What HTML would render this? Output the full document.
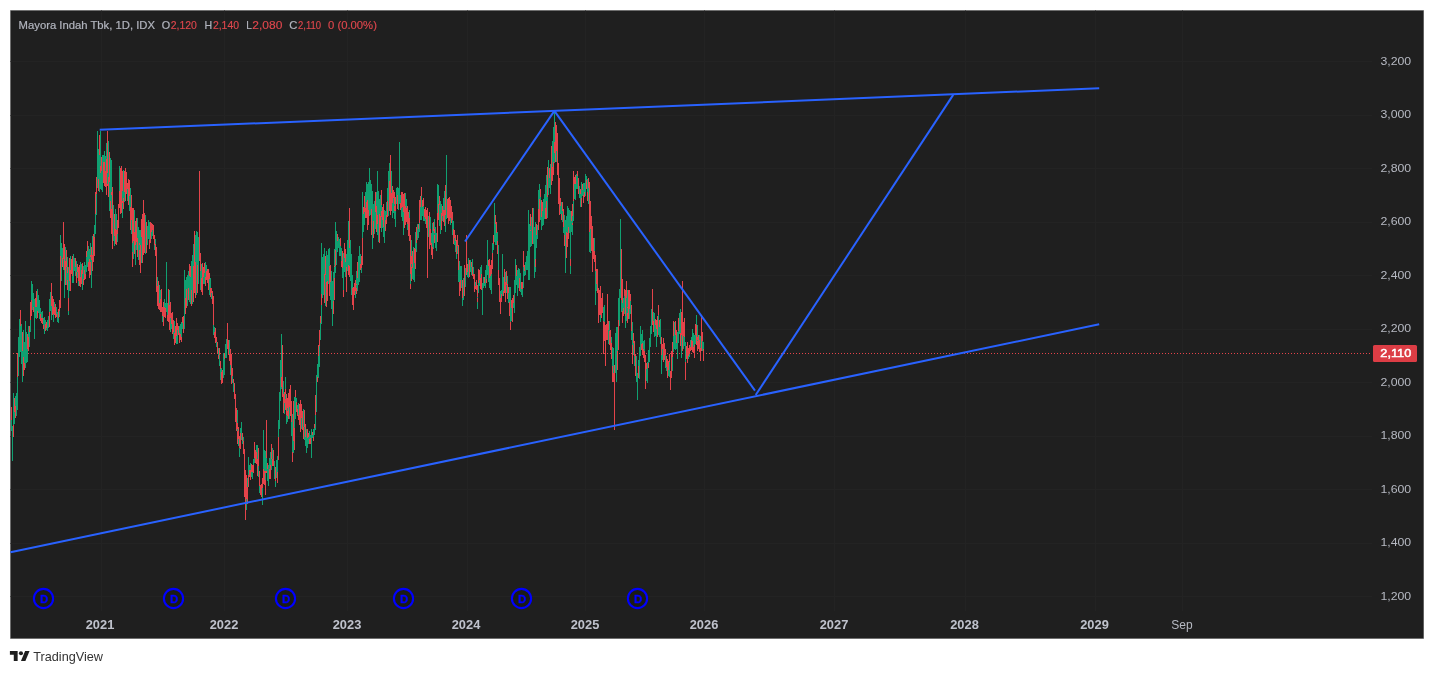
<!DOCTYPE html>
<html><head><meta charset="utf-8"><title>Mayora Indah Tbk</title>
<style>
html,body{margin:0;padding:0;background:#fff;}
body{width:1434px;height:674px;overflow:hidden;position:relative;font-family:"Liberation Sans",sans-serif;}
svg{position:absolute;left:0;top:0;display:block;will-change:transform}
svg text{font-family:"Liberation Sans",sans-serif}
.pl{font-size:11px;fill:#b6b9c2}
.tl{font-size:12px;fill:#b6b9c2}
.tlb{font-size:12px;font-weight:700;fill:#bfc2cc}
.hd{font-size:11px;fill:#b2b5be;stroke:#b2b5be;stroke-width:0.2px}
.hr{font-size:11px;fill:#df474d;stroke:#df474d;stroke-width:0.15px}
</style></head><body>
<svg width="1434" height="674" viewBox="0 0 1434 674">
<rect x="0" y="0" width="1434" height="674" fill="#ffffff"/>
<rect x="10" y="10" width="1414" height="629" fill="#a5a5a5"/>
<rect x="10.6" y="10.6" width="1412.9" height="627.8" fill="#1f1f1f"/>
<g id="grid">
<rect x="10.5" y="61" width="1361.5" height="1" fill="#232323"/>
<rect x="10.5" y="115" width="1361.5" height="1" fill="#232323"/>
<rect x="10.5" y="168" width="1361.5" height="1" fill="#232323"/>
<rect x="10.5" y="222" width="1361.5" height="1" fill="#232323"/>
<rect x="10.5" y="275" width="1361.5" height="1" fill="#232323"/>
<rect x="10.5" y="329" width="1361.5" height="1" fill="#232323"/>
<rect x="10.5" y="382" width="1361.5" height="1" fill="#232323"/>
<rect x="10.5" y="436" width="1361.5" height="1" fill="#232323"/>
<rect x="10.5" y="489" width="1361.5" height="1" fill="#232323"/>
<rect x="10.5" y="543" width="1361.5" height="1" fill="#232323"/>
<rect x="10.5" y="596" width="1361.5" height="1" fill="#232323"/>
<rect x="101" y="10.5" width="1" height="600.5" fill="#232323"/>
<rect x="224" y="10.5" width="1" height="600.5" fill="#232323"/>
<rect x="347" y="10.5" width="1" height="600.5" fill="#232323"/>
<rect x="467" y="10.5" width="1" height="600.5" fill="#232323"/>
<rect x="585" y="10.5" width="1" height="600.5" fill="#232323"/>
<rect x="704" y="10.5" width="1" height="600.5" fill="#232323"/>
<rect x="834" y="10.5" width="1" height="600.5" fill="#232323"/>
<rect x="965" y="10.5" width="1" height="600.5" fill="#232323"/>
<rect x="1095" y="10.5" width="1" height="600.5" fill="#232323"/>
<rect x="1182" y="10.5" width="1" height="600.5" fill="#232323"/>
</g>
<line x1="13" y1="353.5" x2="1370" y2="353.5" stroke="#e4434a" stroke-width="1" stroke-dasharray="1 2" shape-rendering="crispEdges"/>
<g id="candles">
<path d="M11.5 420V431M12.5 426V461M13.5 393V425M14.5 412V424M15.5 396V406M16.5 393V416M17.5 377V410M18.5 337V376M19.5 319V357M20.5 326V352M21.5 324V364M22.5 351V382M23.5 330V357M24.5 342V363M25.5 321V368M26.5 332V363M27.5 349V362M28.5 326V337M29.5 332V347M30.5 320V332M31.5 281V300M32.5 284V310M33.5 293V307M34.5 299V339M35.5 307V318M36.5 307V319M37.5 289V311M38.5 295V313M39.5 300V319M40.5 308V314M41.5 312V318M42.5 311V318M43.5 318V325M44.5 317V334M45.5 320V324M46.5 328V330M47.5 320V331M48.5 316V328M49.5 299V312M50.5 292V311M51.5 306V320M53.5 314V322M54.5 302V307M56.5 307V314M57.5 312V322M58.5 318V323M59.5 311V317M60.5 235V256M61.5 243V281M62.5 248V258M63.5 259V270M64.5 270V298M65.5 247V261M66.5 267V285M67.5 257V267M67.5 273V280M68.5 267V298M68.5 311V315M69.5 281V291M70.5 256V270M72.5 276V283M73.5 254V283M74.5 258V271M75.5 267V276M76.5 261V272M77.5 272V278M78.5 281V286M80.5 262V277M81.5 264V270M82.5 274V290M83.5 266V279M84.5 262V270M85.5 265V274M86.5 257V272M87.5 251V267M88.5 246V262M89.5 249V259M90.5 243V255M90.5 257V262M91.5 260V288M92.5 236V255M94.5 225V237M95.5 214V234M96.5 194V215M97.5 131V188M98.5 149V179M99.5 155V192M100.5 131V166M100.5 173V189M101.5 171V190M102.5 155V192M103.5 155V162M104.5 151V162M105.5 156V171M106.5 143V159M107.5 173V184M108.5 141V177M109.5 182V211M110.5 158V201M111.5 160V192M111.5 195V209M113.5 205V241M114.5 236V246M115.5 209V229M116.5 214V230M117.5 234V242M119.5 166V191M122.5 191V201M122.5 203V218M123.5 170V198M124.5 192V202M127.5 189V201M129.5 196V211M130.5 188V207M131.5 220V234M132.5 243V252M133.5 241V259M134.5 210V232M135.5 245V265M136.5 242V250M137.5 218V238M138.5 227V260M139.5 230V243M139.5 245V250M140.5 230V245M141.5 237V263M145.5 215V254M147.5 226V245M148.5 220V239M149.5 222V240M151.5 232V239M152.5 230V236M154.5 245V250M155.5 239V244M157.5 277V286M159.5 285V303M160.5 290V299M162.5 316V322M164.5 299V307M165.5 303V308M166.5 262V312M167.5 303V315M169.5 290V305M170.5 318V332M171.5 324V329M173.5 332V339M174.5 321V333M176.5 336V344M177.5 330V344M179.5 326V333M180.5 324V334M181.5 322V337M182.5 323V329M184.5 270V329M185.5 280V298M186.5 277V289M187.5 275V306M188.5 271V288M189.5 276V302M190.5 277V304M191.5 261V290M192.5 255V304M193.5 244V266M195.5 235V262M196.5 231V295M197.5 232V265M198.5 237V284M200.5 271V290M201.5 264V278M203.5 277V284M204.5 273V284M205.5 262V277M206.5 265V271M209.5 279V295M210.5 278V288M211.5 293V299M213.5 325V335M214.5 327V332M216.5 342V347M218.5 348V355M219.5 355V366M220.5 369V380M221.5 368V372M223.5 353V378M224.5 359V375M225.5 344V358M226.5 339V358M229.5 340V354M230.5 365V375M232.5 376V383M233.5 383V392M237.5 410V423M237.5 429V431M238.5 439V446M239.5 448V457M240.5 428V433M241.5 422V440M242.5 441V444M243.5 437V441M246.5 499V510M247.5 478V487M248.5 457V475M249.5 465V470M250.5 463V470M251.5 472V477M252.5 472V479M253.5 459V465M254.5 458V463M256.5 445V452M257.5 445V459M258.5 466V477M259.5 486V493M262.5 488V505M263.5 430V469M264.5 450V471M265.5 451V471M265.5 473V480M266.5 458V471M267.5 469V481M268.5 465V486M269.5 458V469M270.5 452V465M271.5 459V470M272.5 448V459M274.5 461V479M275.5 481V487M276.5 460V478M277.5 456V472M278.5 420V437M279.5 392V429M280.5 360V401M281.5 334V377M281.5 387V389M283.5 381V394M284.5 403V414M285.5 377V389M285.5 394V399M286.5 415V424M287.5 408V411M287.5 416V422M289.5 407V419M291.5 422V436M292.5 414V452M293.5 441V453M294.5 397V428M295.5 397V419M296.5 398V402M297.5 405V409M298.5 403V415M301.5 418V429M303.5 409V427M304.5 427V440M305.5 437V446M306.5 429V453M307.5 438V448M308.5 437V444M309.5 431V439M310.5 435V438M311.5 429V458M312.5 435V438M313.5 429V437M314.5 428V435M315.5 415V430M316.5 375V412M317.5 364V377M318.5 356V378M319.5 346V367M320.5 323V340M321.5 243V294M321.5 305V324M322.5 257V298M323.5 254V295M324.5 248V274M325.5 275V306M326.5 251V282M327.5 255V281M328.5 249V284M329.5 248V266M330.5 282V300M331.5 271V309M332.5 281V326M333.5 272V301M334.5 249V266M334.5 267V278M335.5 222V250M335.5 266V273M336.5 231V265M337.5 241V252M338.5 237V248M339.5 239V256M340.5 246V256M341.5 248V261M342.5 268V278M343.5 253V290M344.5 258V272M345.5 262V277M346.5 254V267M347.5 240V271M348.5 221V265M349.5 248V266M350.5 240V281M351.5 254V295M352.5 275V288M355.5 291V298M356.5 271V284M356.5 285V288M357.5 278V291M358.5 256V285M359.5 246V282M360.5 254V264M361.5 268V273M362.5 192V238M363.5 214V232M364.5 212V225M365.5 192V208M366.5 182V202M367.5 184V200M368.5 182V210M369.5 168V216M370.5 180V215M371.5 184V209M372.5 191V249M373.5 204V221M374.5 201V234M375.5 212V229M376.5 192V206M377.5 171V215M377.5 224V235M378.5 191V242M379.5 199V214M380.5 195V216M381.5 205V211M381.5 217V232M382.5 220V228M383.5 227V237M384.5 210V243M385.5 211V220M386.5 202V215M387.5 188V201M388.5 171V216M389.5 163V181M391.5 171V193M392.5 203V218M393.5 198V213M394.5 204V206M394.5 211V219M395.5 211V227M396.5 188V204M397.5 187V195M398.5 188V210M399.5 142V204M400.5 195V203M401.5 208V217M402.5 207V221M403.5 212V235M405.5 193V206M406.5 199V208M407.5 224V230M409.5 210V218M410.5 274V284M411.5 240V256M411.5 264V267M412.5 268V279M413.5 247V280M414.5 263V282M415.5 232V249M416.5 243V252M417.5 224V240M418.5 229V238M419.5 223V232M420.5 207V220M421.5 196V220M422.5 207V216M423.5 206V221M424.5 217V221M425.5 219V224M428.5 216V237M430.5 217V229M431.5 233V243M432.5 223V247M433.5 231V249M434.5 219V229M434.5 233V235M435.5 227V248M436.5 233V251M437.5 184V213M438.5 185V204M439.5 205V226M440.5 201V234M441.5 204V213M442.5 216V221M443.5 198V210M444.5 191V210M445.5 215V232M446.5 155V219M450.5 218V225M452.5 220V235M453.5 221V229M454.5 238V245M455.5 241V252M456.5 254V259M457.5 246V254M458.5 270V282M459.5 261V282M460.5 266V280M461.5 266V288M462.5 298V306M463.5 278V300M465.5 268V287M467.5 272V277M468.5 258V278M470.5 260V272M471.5 267V275M472.5 259V267M473.5 267V274M475.5 282V286M477.5 297V298M477.5 302V309M478.5 283V293M479.5 280V286M480.5 267V278M481.5 265V274M482.5 283V315M483.5 277V288M484.5 283V286M485.5 270V288M486.5 265V279M487.5 240V275M488.5 266V282M489.5 278V288M490.5 276V290M491.5 274V294M492.5 243V253M493.5 244V250M494.5 203V242M495.5 224V245M496.5 233V245M497.5 232V241M498.5 245V270M500.5 291V298M501.5 290V294M502.5 254V296M503.5 277V291M505.5 272V282M506.5 285V293M507.5 276V284M508.5 293V303M509.5 287V302M510.5 287V322M511.5 308V321M513.5 303V308M514.5 280V313M515.5 259V293M516.5 276V285M517.5 270V296M518.5 268V288M519.5 269V278M520.5 273V292M521.5 289V295M522.5 289V297M523.5 267V288M524.5 271V276M525.5 262V275M526.5 256V270M527.5 251V270M528.5 210V280M529.5 224V280M530.5 226V230M530.5 231V247M531.5 217V246M533.5 208V244M534.5 227V278M535.5 222V259M535.5 267V272M536.5 235V248M537.5 225V239M538.5 190V209M539.5 184V199M540.5 197V220M541.5 217V230M542.5 211V226M543.5 199V225M544.5 194V219M545.5 185V208M546.5 175V201M547.5 197V218M548.5 160V195M549.5 178V188M550.5 164V194M552.5 141V167M553.5 127V162M554.5 112V142M554.5 153V163M556.5 151V162M560.5 206V214M561.5 202V214M562.5 211V222M563.5 227V233M564.5 215V235M565.5 220V273M566.5 216V232M567.5 206V233M568.5 208V227M569.5 210V233M570.5 211V259M570.5 266V274M571.5 221V232M572.5 216V223M572.5 225V235M573.5 201V221M574.5 184V199M575.5 184V200M576.5 174V189M577.5 176V189M579.5 186V198M580.5 194V207M581.5 182V198M582.5 190V196M583.5 183V195M584.5 183V192M585.5 174V196M586.5 176V180M587.5 179V192M588.5 188V204M589.5 232V252M590.5 229V253M594.5 238V251M595.5 271V305M596.5 284V291M600.5 315V322M603.5 307V321M604.5 305V322M608.5 330V344M609.5 321V331M611.5 337V343M612.5 347V366M613.5 348V373M615.5 333V373M616.5 327V382M617.5 327V351M618.5 298V320M619.5 289V326M620.5 219V298M621.5 300V312M622.5 303V311M623.5 298V308M624.5 296V314M625.5 316V328M626.5 298V321M627.5 290V307M627.5 308V313M629.5 309V319M630.5 301V314M631.5 331V340M632.5 322V345M633.5 343V355M634.5 356V366M636.5 356V382M637.5 373V400M638.5 360V366M639.5 347V379M640.5 326V356M641.5 334V344M642.5 330V343M643.5 341V349M644.5 340V351M646.5 369V381M647.5 362V383M648.5 350V363M649.5 338V362M650.5 326V347M651.5 309V334M653.5 312V321M654.5 313V337M655.5 325V336M656.5 329V347M658.5 315V335M659.5 327V337M660.5 319V344M661.5 355V374M662.5 349V360M665.5 355V368M666.5 367V371M668.5 370V376M669.5 362V377M672.5 357V371M673.5 336V352M674.5 322V349M675.5 335V350M676.5 343V349M677.5 332V359M678.5 331V343M679.5 313V334M680.5 309V333M681.5 335V358M683.5 336V349M684.5 337V346M685.5 342V362M688.5 356V359M689.5 354V357M690.5 340V347M691.5 337V340M692.5 329V341M693.5 333V347M694.5 335V345M695.5 335V344M696.5 315V325M697.5 325V337M697.5 340V341M699.5 335V340M700.5 336V348M702.5 341V351M703.5 342V349" stroke="#10a071" stroke-width="1" fill="none" shape-rendering="crispEdges"/>
<path d="M11.5 407V420M13.5 425V437M14.5 398V412M15.5 406V418M17.5 353V377M20.5 310V326M22.5 332V351M23.5 357V376M24.5 363V370M27.5 334V349M28.5 337V351M29.5 326V332M30.5 302V320M31.5 300V316M33.5 307V312M35.5 298V307M36.5 291V307M37.5 311V318M40.5 314V321M41.5 318V323M42.5 318V324M43.5 325V329M45.5 324V331M46.5 322V328M49.5 312V327M51.5 283V306M52.5 296V315M53.5 299V314M54.5 307V315M55.5 304V318M56.5 314V317M58.5 309V318M59.5 300V311M60.5 256V308M62.5 258V267M63.5 222V259M64.5 244V270M65.5 261V285M66.5 250V267M67.5 267V273M67.5 280V290M68.5 298V311M69.5 258V281M70.5 270V291M71.5 259V274M72.5 256V276M75.5 258V267M76.5 272V283M77.5 264V272M78.5 267V281M79.5 265V286M80.5 277V287M81.5 270V284M82.5 263V274M83.5 279V285M84.5 270V280M85.5 274V279M86.5 251V257M87.5 241V251M88.5 262V271M89.5 259V278M90.5 255V257M90.5 262V275M91.5 247V260M92.5 255V271M93.5 234V262M94.5 237V256M95.5 192V214M96.5 177V194M98.5 179V191M99.5 135V155M100.5 166V173M101.5 157V171M103.5 162V183M104.5 162V186M105.5 171V187M106.5 159V195M107.5 131V173M107.5 184V186M108.5 177V197M109.5 152V182M110.5 201V218M111.5 192V195M111.5 209V234M112.5 187V249M114.5 214V236M115.5 229V244M116.5 230V245M117.5 220V234M118.5 204V228M119.5 191V208M120.5 168V214M121.5 166V213M122.5 171V191M122.5 201V203M123.5 198V209M124.5 171V192M125.5 168V201M126.5 172V194M127.5 183V189M128.5 179V205M129.5 180V196M130.5 207V230M131.5 195V220M132.5 208V243M132.5 252V267M133.5 208V241M134.5 232V254M135.5 221V245M136.5 218V242M137.5 238V257M139.5 243V245M139.5 250V265M140.5 245V273M141.5 219V237M142.5 214V263M143.5 200V255M144.5 213V253M146.5 222V253M149.5 240V249M150.5 222V243M151.5 223V232M152.5 224V230M153.5 225V239M154.5 235V245M155.5 244V256M156.5 247V292M157.5 286V306M158.5 281V309M159.5 303V310M160.5 299V312M161.5 289V312M162.5 307V316M163.5 302V326M164.5 307V317M165.5 308V318M167.5 315V321M168.5 289V322M169.5 305V330M170.5 302V318M171.5 313V324M172.5 312V334M173.5 320V332M174.5 333V345M175.5 326V343M176.5 318V336M177.5 323V330M178.5 326V335M179.5 333V343M180.5 334V340M181.5 337V342M182.5 317V323M183.5 316V333M185.5 298V314M186.5 289V308M188.5 288V300M189.5 264V276M190.5 266V277M191.5 290V306M193.5 266V302M194.5 231V293M195.5 262V298M197.5 265V293M199.5 171V261M200.5 253V271M201.5 278V292M202.5 263V295M203.5 267V277M204.5 263V273M205.5 277V286M206.5 271V280M207.5 269V283M208.5 269V290M209.5 273V279M210.5 288V297M211.5 288V293M212.5 291V304M213.5 296V325M214.5 332V338M215.5 328V343M216.5 337V342M217.5 342V354M218.5 355V359M219.5 348V355M220.5 361V369M221.5 372V384M222.5 370V383M224.5 353V359M227.5 323V349M228.5 340V355M229.5 354V361M230.5 349V365M231.5 354V384M232.5 368V376M233.5 379V383M234.5 383V399M235.5 394V422M236.5 408V431M237.5 423V429M237.5 431V444M238.5 427V439M239.5 436V448M240.5 433V449M242.5 433V441M243.5 441V454M244.5 449V497M245.5 470V520M246.5 475V499M247.5 487V504M248.5 475V487M249.5 470V477M250.5 470V480M251.5 464V472M252.5 465V472M253.5 465V473M254.5 442V458M255.5 450V463M256.5 452V464M257.5 459V476M258.5 448V466M259.5 471V486M260.5 485V495M261.5 484V497M262.5 478V488M263.5 469V484M264.5 471V485M265.5 471V473M265.5 480V495M266.5 420V458M266.5 471V473M267.5 463V469M269.5 469V479M270.5 465V479M271.5 444V459M272.5 459V466M273.5 450V466M275.5 467V481M277.5 472V483M278.5 437V460M281.5 377V387M282.5 345V397M283.5 394V413M284.5 392V403M285.5 389V394M285.5 399V410M286.5 394V415M287.5 398V408M287.5 411V416M288.5 393V419M289.5 389V407M290.5 385V416M291.5 401V422M292.5 452V462M293.5 401V441M294.5 428V450M295.5 390V397M296.5 402V412M297.5 409V416M298.5 415V420M299.5 404V425M300.5 400V432M301.5 404V418M302.5 411V430M303.5 427V439M304.5 410V427M305.5 424V437M307.5 429V438M308.5 433V437M309.5 439V444M310.5 438V444M312.5 432V435M313.5 437V441M314.5 424V428M315.5 395V415M317.5 377V382M318.5 345V356M319.5 330V346M320.5 316V323M321.5 294V305M324.5 274V303M325.5 256V275M326.5 282V307M327.5 281V301M329.5 266V296M330.5 265V282M333.5 301V314M334.5 266V267M334.5 278V300M335.5 250V266M337.5 234V241M340.5 238V246M341.5 261V267M342.5 251V268M343.5 290V297M344.5 243V258M345.5 249V262M346.5 267V292M348.5 265V275M349.5 208V248M349.5 266V277M352.5 288V305M353.5 287V310M354.5 283V295M355.5 280V291M356.5 284V285M356.5 288V294M357.5 262V278M360.5 264V270M361.5 256V268M362.5 238V265M363.5 207V214M364.5 196V212M365.5 208V218M366.5 202V218M367.5 200V230M368.5 210V225M371.5 209V235M373.5 221V238M375.5 192V212M376.5 206V232M377.5 215V224M379.5 214V243M380.5 216V228M381.5 190V205M381.5 211V217M382.5 207V220M383.5 204V227M385.5 220V231M386.5 215V224M387.5 201V217M389.5 181V211M390.5 155V215M391.5 193V211M392.5 186V203M393.5 190V198M394.5 192V204M394.5 206V211M395.5 197V211M397.5 195V209M400.5 203V210M401.5 192V208M402.5 192V207M403.5 194V212M404.5 193V228M405.5 206V225M406.5 208V222M407.5 206V224M408.5 212V236M409.5 218V241M410.5 235V274M410.5 284V289M411.5 256V264M411.5 267V281M412.5 251V268M414.5 248V263M415.5 249V269M416.5 227V243M418.5 224V229M419.5 200V223M420.5 196V207M421.5 187V196M422.5 200V207M423.5 198V206M424.5 209V217M425.5 207V219M426.5 210V228M427.5 208V278M429.5 212V249M430.5 229V245M431.5 243V255M432.5 247V259M433.5 222V231M434.5 229V233M434.5 235V243M437.5 213V242M438.5 204V220M439.5 196V205M441.5 213V230M442.5 206V216M443.5 210V222M444.5 210V226M445.5 185V215M447.5 199V218M448.5 198V224M449.5 197V221M450.5 200V218M451.5 206V223M452.5 212V220M453.5 229V244M454.5 230V238M455.5 235V241M456.5 240V254M457.5 235V246M458.5 245V270M459.5 282V296M460.5 280V291M462.5 280V298M464.5 265V296M466.5 235V275M467.5 264V272M469.5 260V277M471.5 262V267M472.5 267V276M473.5 274V279M474.5 274V292M475.5 286V289M476.5 280V290M477.5 285V297M477.5 298V302M478.5 269V283M479.5 270V280M480.5 278V289M481.5 274V290M484.5 277V283M486.5 279V283M488.5 260V266M489.5 259V278M490.5 265V276M491.5 260V274M492.5 253V269M493.5 235V244M495.5 215V224M496.5 222V233M497.5 241V254M498.5 270V285M499.5 278V302M500.5 298V314M501.5 294V302M503.5 291V296M504.5 269V293M505.5 282V302M506.5 271V285M507.5 284V299M508.5 287V293M509.5 302V316M510.5 322V330M511.5 300V308M512.5 298V322M513.5 295V303M516.5 265V276M519.5 278V291M521.5 282V289M522.5 282V289M523.5 251V267M524.5 265V271M530.5 214V226M530.5 230V231M532.5 208V244M535.5 259V267M536.5 224V235M538.5 209V230M539.5 199V222M540.5 189V197M541.5 200V217M542.5 202V211M545.5 208V219M546.5 201V219M547.5 167V197M549.5 168V178M551.5 146V185M552.5 167V181M553.5 162V175M554.5 142V153M555.5 122V162M556.5 125V151M557.5 133V175M558.5 163V204M559.5 178V215M560.5 198V206M561.5 214V220M562.5 202V211M563.5 209V227M564.5 235V246M566.5 232V258M567.5 233V247M568.5 227V239M570.5 259V266M571.5 211V221M572.5 204V216M572.5 223V225M573.5 171V201M574.5 177V184M575.5 175V184M577.5 171V176M578.5 178V194M580.5 189V194M581.5 198V207M582.5 184V190M583.5 195V203M584.5 192V197M586.5 180V189M587.5 192V201M588.5 178V188M589.5 182V232M590.5 201V229M591.5 216V251M592.5 226V272M593.5 238V259M594.5 251V262M595.5 255V271M596.5 269V284M597.5 269V293M598.5 288V323M599.5 290V315M600.5 286V315M601.5 298V318M602.5 293V313M603.5 321V354M604.5 322V341M605.5 325V366M606.5 324V340M607.5 294V340M608.5 321V330M609.5 331V345M610.5 330V350M611.5 343V359M612.5 366V382M613.5 373V382M614.5 365V430M617.5 351V370M618.5 320V350M621.5 249V300M622.5 279V303M622.5 311V323M623.5 308V316M624.5 289V296M625.5 290V316M626.5 281V298M627.5 307V308M627.5 313V323M628.5 290V319M629.5 290V309M630.5 294V301M631.5 305V331M632.5 345V364M633.5 333V343M634.5 341V356M635.5 354V376M638.5 366V378M641.5 344V350M642.5 343V355M643.5 349V358M644.5 351V362M645.5 355V389M646.5 363V369M648.5 363V368M652.5 289V325M653.5 321V332M655.5 319V325M656.5 320V329M657.5 316V337M658.5 305V315M659.5 320V327M661.5 337V355M662.5 344V349M663.5 338V362M664.5 343V360M665.5 349V355M666.5 356V367M667.5 359V378M668.5 361V370M669.5 354V362M670.5 371V390M671.5 351V378M672.5 342V357M673.5 321V336M675.5 321V335M676.5 330V343M678.5 318V331M680.5 333V346M681.5 312V335M682.5 281V351M683.5 322V336M684.5 318V337M685.5 362V380M686.5 346V359M687.5 342V363M688.5 348V356M689.5 345V354M690.5 347V351M691.5 340V350M692.5 341V352M693.5 347V353M694.5 345V358M695.5 324V335M696.5 325V345M697.5 337V340M697.5 341V351M698.5 335V349M699.5 340V352M700.5 348V361M701.5 315V351M702.5 332V341M703.5 349V361" stroke="#e4434a" stroke-width="1" fill="none" shape-rendering="crispEdges"/>
</g>
<g stroke="#2962ff" stroke-width="2" fill="none" stroke-linecap="butt">
<line x1="99.7" y1="129.8" x2="1099.2" y2="88.2"/>
<line x1="10.5" y1="552.2" x2="1099.2" y2="324.3"/>
<line x1="465" y1="241.5" x2="554.4" y2="110.9"/>
<line x1="554.4" y1="110.9" x2="755" y2="390.6"/>
<line x1="755.7" y1="395" x2="953.2" y2="94.9"/>
</g>
<g id="divs">
<circle cx="43.5" cy="598.5" r="9.6" fill="#1b1b16" stroke="#0000ff" stroke-width="2.1"/>
<text x="44" y="602.9" text-anchor="middle" font-family="Liberation Sans, sans-serif" font-weight="700" font-size="11.3" fill="#0000ff" stroke="#0000ff" stroke-width="0.35">D</text>
<circle cx="173.5" cy="598.5" r="9.6" fill="#1b1b16" stroke="#0000ff" stroke-width="2.1"/>
<text x="174" y="602.9" text-anchor="middle" font-family="Liberation Sans, sans-serif" font-weight="700" font-size="11.3" fill="#0000ff" stroke="#0000ff" stroke-width="0.35">D</text>
<circle cx="285.5" cy="598.5" r="9.6" fill="#1b1b16" stroke="#0000ff" stroke-width="2.1"/>
<text x="286" y="602.9" text-anchor="middle" font-family="Liberation Sans, sans-serif" font-weight="700" font-size="11.3" fill="#0000ff" stroke="#0000ff" stroke-width="0.35">D</text>
<circle cx="403.5" cy="598.5" r="9.6" fill="#1b1b16" stroke="#0000ff" stroke-width="2.1"/>
<text x="404" y="602.9" text-anchor="middle" font-family="Liberation Sans, sans-serif" font-weight="700" font-size="11.3" fill="#0000ff" stroke="#0000ff" stroke-width="0.35">D</text>
<circle cx="521.5" cy="598.5" r="9.6" fill="#1b1b16" stroke="#0000ff" stroke-width="2.1"/>
<text x="522" y="602.9" text-anchor="middle" font-family="Liberation Sans, sans-serif" font-weight="700" font-size="11.3" fill="#0000ff" stroke="#0000ff" stroke-width="0.35">D</text>
<circle cx="637.5" cy="598.5" r="9.6" fill="#1b1b16" stroke="#0000ff" stroke-width="2.1"/>
<text x="638" y="602.9" text-anchor="middle" font-family="Liberation Sans, sans-serif" font-weight="700" font-size="11.3" fill="#0000ff" stroke="#0000ff" stroke-width="0.35">D</text>
</g>
<g id="paxis">
<text x="1380.4" y="64.8" textLength="30.8" lengthAdjust="spacingAndGlyphs" class="pl">3,200</text>
<text x="1380.4" y="118.3" textLength="30.8" lengthAdjust="spacingAndGlyphs" class="pl">3,000</text>
<text x="1380.4" y="171.8" textLength="30.8" lengthAdjust="spacingAndGlyphs" class="pl">2,800</text>
<text x="1380.4" y="225.3" textLength="30.8" lengthAdjust="spacingAndGlyphs" class="pl">2,600</text>
<text x="1380.4" y="278.8" textLength="30.8" lengthAdjust="spacingAndGlyphs" class="pl">2,400</text>
<text x="1380.4" y="332.3" textLength="30.8" lengthAdjust="spacingAndGlyphs" class="pl">2,200</text>
<text x="1380.4" y="385.8" textLength="30.8" lengthAdjust="spacingAndGlyphs" class="pl">2,000</text>
<text x="1380.4" y="439.3" textLength="30.8" lengthAdjust="spacingAndGlyphs" class="pl">1,800</text>
<text x="1380.4" y="492.8" textLength="30.8" lengthAdjust="spacingAndGlyphs" class="pl">1,600</text>
<text x="1380.4" y="546.3" textLength="30.8" lengthAdjust="spacingAndGlyphs" class="pl">1,400</text>
<text x="1380.4" y="599.8" textLength="30.8" lengthAdjust="spacingAndGlyphs" class="pl">1,200</text>
<rect x="1373" y="345" width="44" height="17" rx="1.5" fill="#dc3d45"/>
<text x="1380.3" y="356.8" textLength="31" lengthAdjust="spacingAndGlyphs" font-size="11" fill="#ffffff" stroke="#ffffff" stroke-width="0.45">2,110</text>
</g>
<g id="taxis">
<text x="100" y="629.4" text-anchor="middle" textLength="28.6" lengthAdjust="spacingAndGlyphs" class="tlb">2021</text>
<text x="224" y="629.4" text-anchor="middle" textLength="28.6" lengthAdjust="spacingAndGlyphs" class="tlb">2022</text>
<text x="347" y="629.4" text-anchor="middle" textLength="28.6" lengthAdjust="spacingAndGlyphs" class="tlb">2023</text>
<text x="466" y="629.4" text-anchor="middle" textLength="28.6" lengthAdjust="spacingAndGlyphs" class="tlb">2024</text>
<text x="585" y="629.4" text-anchor="middle" textLength="28.6" lengthAdjust="spacingAndGlyphs" class="tlb">2025</text>
<text x="704" y="629.4" text-anchor="middle" textLength="28.6" lengthAdjust="spacingAndGlyphs" class="tlb">2026</text>
<text x="834" y="629.4" text-anchor="middle" textLength="28.6" lengthAdjust="spacingAndGlyphs" class="tlb">2027</text>
<text x="964.5" y="629.4" text-anchor="middle" textLength="28.6" lengthAdjust="spacingAndGlyphs" class="tlb">2028</text>
<text x="1094.5" y="629.4" text-anchor="middle" textLength="28.6" lengthAdjust="spacingAndGlyphs" class="tlb">2029</text>
<text x="1182" y="629.4" text-anchor="middle" class="tl">Sep</text>
</g>
<g id="hdr">
<text x="18.6" y="28.9" textLength="136.4" lengthAdjust="spacingAndGlyphs" class="hd">Mayora Indah Tbk, 1D, IDX</text>
<text x="161.7" y="28.9" class="hd" textLength="8.4" lengthAdjust="spacingAndGlyphs">O</text>
<text x="170.7" y="28.9" class="hr" textLength="26.2" lengthAdjust="spacingAndGlyphs">2,120</text>
<text x="204.6" y="28.9" class="hd" textLength="7.7" lengthAdjust="spacingAndGlyphs">H</text>
<text x="212.9" y="28.9" class="hr" textLength="26.2" lengthAdjust="spacingAndGlyphs">2,140</text>
<text x="246.2" y="28.9" class="hd" textLength="5.6" lengthAdjust="spacingAndGlyphs">L</text>
<text x="252.3" y="28.9" class="hr" textLength="30" lengthAdjust="spacingAndGlyphs">2,080</text>
<text x="289.3" y="28.9" class="hd" textLength="8.1" lengthAdjust="spacingAndGlyphs">C</text>
<text x="298" y="28.9" class="hr" textLength="23.1" lengthAdjust="spacingAndGlyphs">2,110</text>
<text x="328" y="28.9" class="hr" textLength="48.9" lengthAdjust="spacingAndGlyphs">0 (0.00%)</text>
</g>
<g id="logo" fill="#1e1e1e">
<g transform="translate(9.9 648.79) scale(0.553)">
<path d="M14 22H7V11H0V4h14v18z"/><path d="M28 22h-8l7.500-18h8L28 22z"/><circle cx="20" cy="8" r="3.7"/>
</g>
<text x="33.3" y="660.9" font-size="12.4" fill="#333333" textLength="69.7" lengthAdjust="spacingAndGlyphs">TradingView</text>
</g>
</svg>
</body></html>
